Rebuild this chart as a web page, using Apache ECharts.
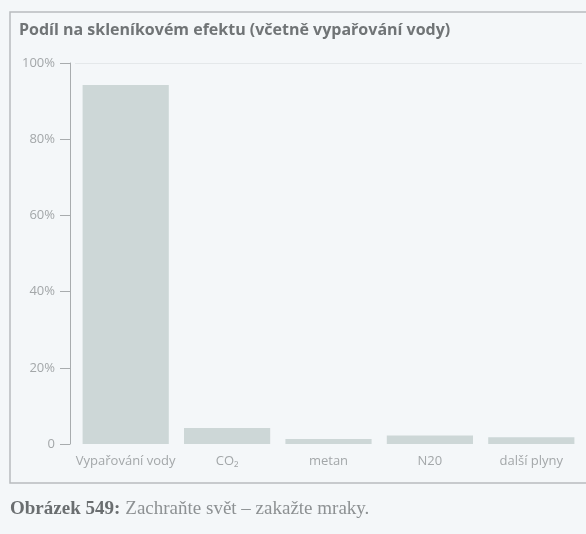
<!DOCTYPE html>
<html>
<head>
<meta charset="utf-8">
<script src="https://cdn.jsdelivr.net/npm/echarts@6/dist/echarts.min.js"></script>
<style>
  html, body { margin: 0; padding: 0; background: #f4f7f9; }
  #chart { width: 586px; height: 534px; }
</style>
</head>
<body>
<div id="chart"></div>
<script>
// data
var categories = ['Vypařování vody', 'CO₂', 'metan', 'N20', 'další plyny'];
var shares = [94.2, 4.2, 1.3, 2.2, 1.8];
var yTicks = [0, 20, 40, 60, 80, 100];
var yTickLabels = ['0', '20%', '40%', '60%', '80%', '100%'];

var chart = echarts.init(document.getElementById('chart'));

var option = {
  backgroundColor: '#f4f7f9',
  animation: false,
  title: [{
    text: 'Podíl na skleníkovém efektu (včetně vypařování vody)',
    left: 14,
    top: 17,
    textStyle: {
      fontFamily: 'Open Sans',
      fontWeight: 'bold',
      fontSize: 16,
      color: '#707476'
    }
  }, {
    text: '{b|Obrázek 549:} {n|Zachraňte svět – zakažte mraky.}',
    left: 5,
    top: 495,
    textStyle: {
      rich: {
        b: {
          fontFamily: 'Liberation Serif',
          fontWeight: 'bold',
          fontSize: 19,
          color: '#6a6e70'
        },
        n: {
          fontFamily: 'Liberation Serif',
          fontWeight: 'normal',
          fontSize: 19,
          color: '#8d9193'
        }
      }
    }
  }],
  graphic: [{
    type: 'rect',
    shape: { x: 10, y: 12, width: 600, height: 471 },
    style: { fill: 'none', stroke: '#b8bcbe', lineWidth: 1.5 },
    silent: true
  }],
  grid: {
    left: 75,
    right: 4,
    top: 63,
    bottom: 90
  },
  xAxis: {
    type: 'category',
    data: categories,
    axisLine: { show: false },
    axisTick: { show: false },
    axisLabel: {
      interval: 0,
      margin: 11,
      fontFamily: 'Open Sans',
      fontSize: 13,
      color: '#a3a7a9'
    }
  },
  yAxis: {
    type: 'value',
    min: 0,
    max: 100,
    interval: 20,
    offset: 5,
    axisLine: { show: true, lineStyle: { color: '#a8acae', width: 1 } },
    axisTick: { show: true, length: 10, lineStyle: { color: '#a8acae' } },
    axisLabel: {
      margin: 15,
      fontFamily: 'Open Sans',
      fontSize: 13,
      color: '#a3a7a9',
      formatter: function (v) {
        var i = yTicks.indexOf(v);
        return i >= 0 ? yTickLabels[i] : '';
      }
    },
    splitLine: {
      show: true,
      lineStyle: {
        color: ['rgba(0,0,0,0)', 'rgba(0,0,0,0)', 'rgba(0,0,0,0)',
                'rgba(0,0,0,0)', 'rgba(0,0,0,0)', '#e4e8ea'],
        width: 1
      }
    }
  },
  series: [{
    type: 'bar',
    data: shares,
    barCategoryGap: '15%',
    itemStyle: { color: '#cdd7d7' }
  }]
};

chart.setOption(option);
</script>
</body>
</html>
